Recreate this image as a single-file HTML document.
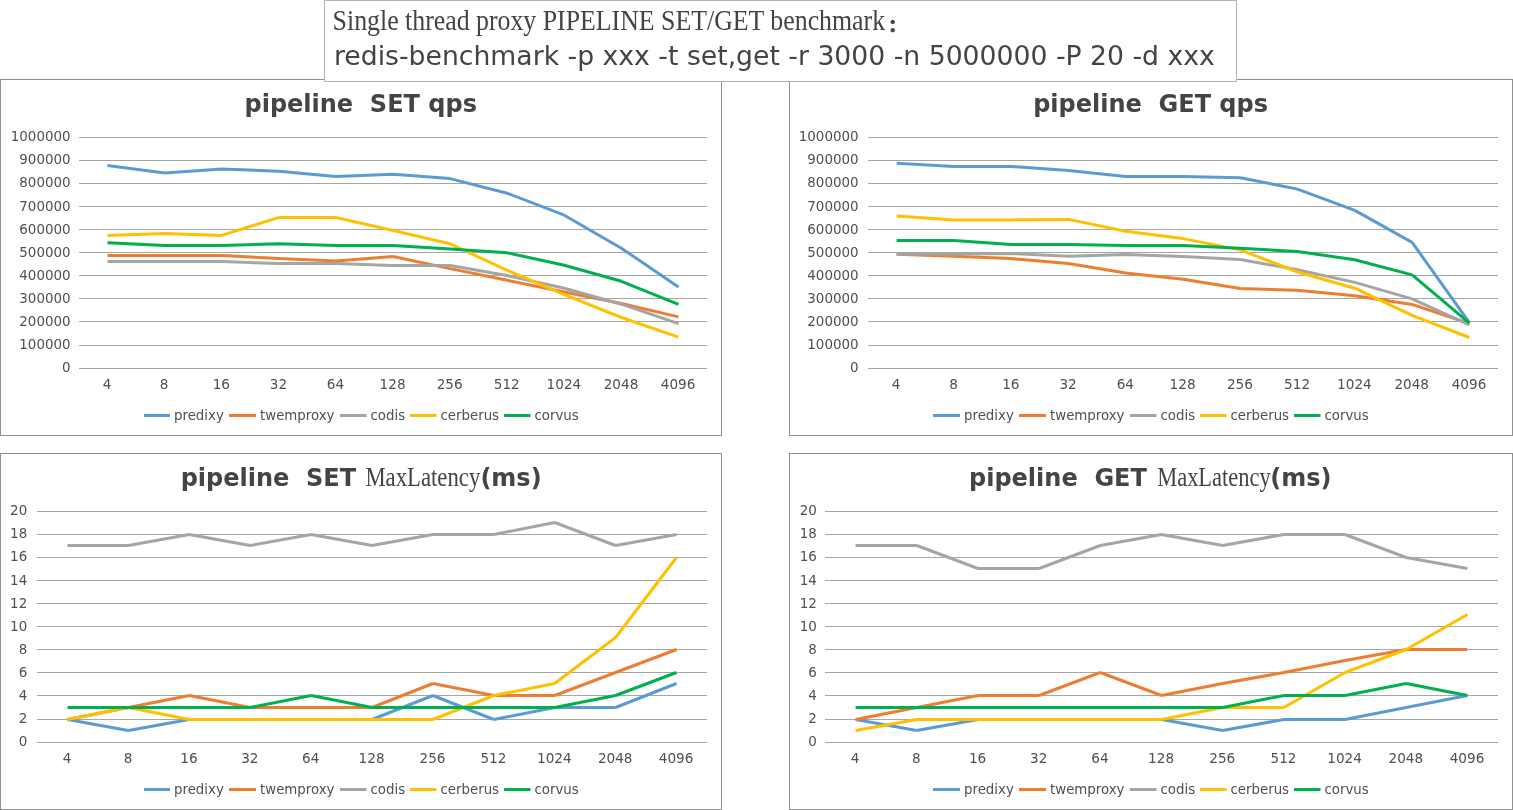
<!DOCTYPE html>
<html lang="en"><head><meta charset="utf-8"><title>Single thread proxy PIPELINE SET/GET benchmark</title>
<style>html,body{margin:0;padding:0;background:#fff;overflow:hidden}svg{display:block}</style></head><body>
<svg width="1513" height="810" viewBox="0 0 1513 810">
<rect width="1513" height="810" fill="#fff"/>
<rect x="0.5" y="79.5" width="721" height="356" fill="#fff" stroke="#909090" stroke-width="1"/>
<path d="M79 137.5H707M79 160.5H707M79 183.5H707M79 206.5H707M79 229.5H707M79 252.5H707M79 275.5H707M79 298.5H707M79 321.5H707M79 345.5H707M79 368.5H707" stroke="#a6a6a6" stroke-width="1" fill="none" shape-rendering="crispEdges"/>
<g font-family="'DejaVu Sans','Liberation Sans',sans-serif" font-size="13.45" fill="#505050" text-anchor="end">
<text x="70.6" y="141.3">1000000</text>
<text x="70.6" y="164.3">900000</text>
<text x="70.6" y="187.3">800000</text>
<text x="70.6" y="211.3">700000</text>
<text x="70.6" y="234.3">600000</text>
<text x="70.6" y="257.3">500000</text>
<text x="70.6" y="280.3">400000</text>
<text x="70.6" y="303.3">300000</text>
<text x="70.6" y="326.3">200000</text>
<text x="70.6" y="349.3">100000</text>
<text x="70.6" y="372.3">0</text>
</g>
<g font-family="'DejaVu Sans','Liberation Sans',sans-serif" font-size="13.6" fill="#505050" text-anchor="middle">
<text x="107.1" y="388.6">4</text>
<text x="164.2" y="388.6">8</text>
<text x="221.3" y="388.6">16</text>
<text x="278.4" y="388.6">32</text>
<text x="335.5" y="388.6">64</text>
<text x="392.6" y="388.6">128</text>
<text x="449.7" y="388.6">256</text>
<text x="506.8" y="388.6">512</text>
<text x="563.9" y="388.6">1024</text>
<text x="621.0" y="388.6">2048</text>
<text x="678.1" y="388.6">4096</text>
</g>
<path d="M107.5 165.4L164.6 173.1M164.6 173.1L221.7 169.1M221.7 169.1L278.8 171.2M278.8 171.2L335.9 176.5M335.9 176.5L393.0 174.3M393.0 174.3L450.1 178.6M450.1 178.6L507.2 193.2M507.2 193.2L564.3 215.2M564.3 215.2L621.4 248.2M621.4 248.2L678.5 287.1" stroke="#5b9bd5" stroke-width="3" fill="none"/>
<path d="M107.5 255.5L164.6 255.5M164.6 255.5L221.7 255.5M221.7 255.5L278.8 258.5M278.8 258.5L335.9 261.1M335.9 261.1L393.0 256.5M393.0 256.5L450.1 268.6M450.1 268.6L507.2 280.3M507.2 280.3L564.3 292.0M564.3 292.0L621.4 303.5M621.4 303.5L678.5 316.9" stroke="#ed7d31" stroke-width="3" fill="none"/>
<path d="M107.5 261.5L164.6 261.5M164.6 261.5L221.7 261.5M221.7 261.5L278.8 263.5M278.8 263.5L335.9 263.5M335.9 263.5L393.0 265.5M393.0 265.5L450.1 265.5M450.1 265.5L507.2 275.5M507.2 275.5L564.3 288.3M564.3 288.3L621.4 304.2M621.4 304.2L678.5 323.7" stroke="#a5a5a5" stroke-width="3" fill="none"/>
<path d="M107.5 235.4L164.6 233.5M164.6 233.5L221.7 235.4M221.7 235.4L278.8 217.5M278.8 217.5L335.9 217.5M335.9 217.5L393.0 230.5M393.0 230.5L450.1 243.8M450.1 243.8L507.2 270.3M507.2 270.3L564.3 294.6M564.3 294.6L621.4 317.5M621.4 317.5L678.5 337.1" stroke="#ffc000" stroke-width="3" fill="none"/>
<path d="M107.5 242.7L164.6 245.5M164.6 245.5L221.7 245.5M221.7 245.5L278.8 243.7M278.8 243.7L335.9 245.5M335.9 245.5L393.0 245.5M393.0 245.5L450.1 248.9M450.1 248.9L507.2 252.8M507.2 252.8L564.3 265.2M564.3 265.2L621.4 281.3M621.4 281.3L678.5 304.4" stroke="#00b050" stroke-width="3" fill="none"/>
<g font-family="'DejaVu Sans','Liberation Sans',sans-serif" font-size="13.33" fill="#505050">
<path d="M144.0 415.5H170.0" stroke="#5b9bd5" stroke-width="3"/>
<text x="174.0" y="419.8">predixy</text>
<path d="M229.0 415.5H256.0" stroke="#ed7d31" stroke-width="3"/>
<text x="260.0" y="419.8">twemproxy</text>
<path d="M340.0 415.5H366.5" stroke="#a5a5a5" stroke-width="3"/>
<text x="370.5" y="419.8">codis</text>
<path d="M410.0 415.5H436.5" stroke="#ffc000" stroke-width="3"/>
<text x="440.5" y="419.8">cerberus</text>
<path d="M504.0 415.5H530.5" stroke="#00b050" stroke-width="3"/>
<text x="534.5" y="419.8">corvus</text>
</g>
<text x="360.7" y="112" font-family="'DejaVu Sans','Liberation Sans',sans-serif" font-weight="bold" font-size="24" fill="#444444" text-anchor="middle" xml:space="preserve" style="white-space:pre">pipeline  SET qps</text>
<rect x="789.5" y="79.5" width="723" height="356" fill="#fff" stroke="#909090" stroke-width="1"/>
<path d="M868 137.5H1498M868 160.5H1498M868 183.5H1498M868 206.5H1498M868 229.5H1498M868 252.5H1498M868 275.5H1498M868 298.5H1498M868 321.5H1498M868 345.5H1498M868 368.5H1498" stroke="#a6a6a6" stroke-width="1" fill="none" shape-rendering="crispEdges"/>
<g font-family="'DejaVu Sans','Liberation Sans',sans-serif" font-size="13.45" fill="#505050" text-anchor="end">
<text x="858.6" y="141.3">1000000</text>
<text x="858.6" y="164.3">900000</text>
<text x="858.6" y="187.3">800000</text>
<text x="858.6" y="211.3">700000</text>
<text x="858.6" y="234.3">600000</text>
<text x="858.6" y="257.3">500000</text>
<text x="858.6" y="280.3">400000</text>
<text x="858.6" y="303.3">300000</text>
<text x="858.6" y="326.3">200000</text>
<text x="858.6" y="349.3">100000</text>
<text x="858.6" y="372.3">0</text>
</g>
<g font-family="'DejaVu Sans','Liberation Sans',sans-serif" font-size="13.6" fill="#505050" text-anchor="middle">
<text x="896.2" y="388.6">4</text>
<text x="953.5" y="388.6">8</text>
<text x="1010.8" y="388.6">16</text>
<text x="1068.1" y="388.6">32</text>
<text x="1125.3" y="388.6">64</text>
<text x="1182.6" y="388.6">128</text>
<text x="1239.9" y="388.6">256</text>
<text x="1297.1" y="388.6">512</text>
<text x="1354.4" y="388.6">1024</text>
<text x="1411.7" y="388.6">2048</text>
<text x="1469.0" y="388.6">4096</text>
</g>
<path d="M896.6 163.3L953.9 166.5M953.9 166.5L1011.2 166.5M1011.2 166.5L1068.5 170.4M1068.5 170.4L1125.7 176.5M1125.7 176.5L1183.0 176.5M1183.0 176.5L1240.3 177.7M1240.3 177.7L1297.5 189.1M1297.5 189.1L1354.8 210.4M1354.8 210.4L1412.1 242.4M1412.1 242.4L1469.4 322.6" stroke="#5b9bd5" stroke-width="3" fill="none"/>
<path d="M896.6 254.3L953.9 256.2M953.9 256.2L1011.2 258.6M1011.2 258.6L1068.5 263.5M1068.5 263.5L1125.7 273.0M1125.7 273.0L1183.0 279.3M1183.0 279.3L1240.3 288.6M1240.3 288.6L1297.5 290.2M1297.5 290.2L1354.8 295.7M1354.8 295.7L1412.1 304.4M1412.1 304.4L1469.4 323.5" stroke="#ed7d31" stroke-width="3" fill="none"/>
<path d="M896.6 254.3L953.9 254.0M953.9 254.0L1011.2 253.5M1011.2 253.5L1068.5 256.3M1068.5 256.3L1125.7 254.6M1125.7 254.6L1183.0 256.6M1183.0 256.6L1240.3 259.6M1240.3 259.6L1297.5 269.7M1297.5 269.7L1354.8 282.4M1354.8 282.4L1412.1 298.9M1412.1 298.9L1469.4 324.9" stroke="#a5a5a5" stroke-width="3" fill="none"/>
<path d="M896.6 215.9L953.9 220.1M953.9 220.1L1011.2 219.9M1011.2 219.9L1068.5 219.4M1068.5 219.4L1125.7 231.3M1125.7 231.3L1183.0 238.6M1183.0 238.6L1240.3 249.9M1240.3 249.9L1297.5 272.0M1297.5 272.0L1354.8 288.2M1354.8 288.2L1412.1 315.3M1412.1 315.3L1469.4 337.5" stroke="#ffc000" stroke-width="3" fill="none"/>
<path d="M896.6 240.5L953.9 240.5M953.9 240.5L1011.2 244.5M1011.2 244.5L1068.5 244.5M1068.5 244.5L1125.7 245.5M1125.7 245.5L1183.0 245.5M1183.0 245.5L1240.3 248.2M1240.3 248.2L1297.5 251.5M1297.5 251.5L1354.8 259.7M1354.8 259.7L1412.1 274.9M1412.1 274.9L1469.4 323.1" stroke="#00b050" stroke-width="3" fill="none"/>
<g font-family="'DejaVu Sans','Liberation Sans',sans-serif" font-size="13.33" fill="#505050">
<path d="M933.0 415.5H960.0" stroke="#5b9bd5" stroke-width="3"/>
<text x="964.0" y="419.8">predixy</text>
<path d="M1019.0 415.5H1046.0" stroke="#ed7d31" stroke-width="3"/>
<text x="1050.0" y="419.8">twemproxy</text>
<path d="M1130.0 415.5H1156.5" stroke="#a5a5a5" stroke-width="3"/>
<text x="1160.5" y="419.8">codis</text>
<path d="M1200.0 415.5H1226.5" stroke="#ffc000" stroke-width="3"/>
<text x="1230.5" y="419.8">cerberus</text>
<path d="M1294.0 415.5H1320.5" stroke="#00b050" stroke-width="3"/>
<text x="1324.5" y="419.8">corvus</text>
</g>
<text x="1150.6" y="112" font-family="'DejaVu Sans','Liberation Sans',sans-serif" font-weight="bold" font-size="24" fill="#444444" text-anchor="middle" xml:space="preserve" style="white-space:pre">pipeline  GET qps</text>
<rect x="0.5" y="453.5" width="721" height="356" fill="#fff" stroke="#909090" stroke-width="1"/>
<path d="M37 511.5H707M37 534.5H707M37 557.5H707M37 580.5H707M37 603.5H707M37 626.5H707M37 649.5H707M37 672.5H707M37 695.5H707M37 719.5H707M37 742.5H707" stroke="#a6a6a6" stroke-width="1" fill="none" shape-rendering="crispEdges"/>
<g font-family="'DejaVu Sans','Liberation Sans',sans-serif" font-size="13.45" fill="#505050" text-anchor="end">
<text x="27.2" y="515.3">20</text>
<text x="27.2" y="538.3">18</text>
<text x="27.2" y="561.3">16</text>
<text x="27.2" y="585.3">14</text>
<text x="27.2" y="608.3">12</text>
<text x="27.2" y="631.3">10</text>
<text x="27.2" y="654.3">8</text>
<text x="27.2" y="677.3">6</text>
<text x="27.2" y="700.3">4</text>
<text x="27.2" y="723.3">2</text>
<text x="27.2" y="746.3">0</text>
</g>
<g font-family="'DejaVu Sans','Liberation Sans',sans-serif" font-size="13.6" fill="#505050" text-anchor="middle">
<text x="67.1" y="762.6">4</text>
<text x="128.0" y="762.6">8</text>
<text x="188.9" y="762.6">16</text>
<text x="249.8" y="762.6">32</text>
<text x="310.7" y="762.6">64</text>
<text x="371.6" y="762.6">128</text>
<text x="432.5" y="762.6">256</text>
<text x="493.4" y="762.6">512</text>
<text x="554.3" y="762.6">1024</text>
<text x="615.2" y="762.6">2048</text>
<text x="676.1" y="762.6">4096</text>
</g>
<path d="M67.5 719.5L128.4 730.5M128.4 730.5L189.3 719.5M189.3 719.5L250.2 719.5M250.2 719.5L311.1 719.5M311.1 719.5L372.0 719.5M372.0 719.5L432.9 695.5M432.9 695.5L493.8 719.5M493.8 719.5L554.7 707.5M554.7 707.5L615.6 707.5M615.6 707.5L676.5 683.5" stroke="#5b9bd5" stroke-width="3" fill="none"/>
<path d="M67.5 719.5L128.4 707.5M128.4 707.5L189.3 695.5M189.3 695.5L250.2 707.5M250.2 707.5L311.1 707.5M311.1 707.5L372.0 707.5M372.0 707.5L432.9 683.5M432.9 683.5L493.8 695.5M493.8 695.5L554.7 695.5M554.7 695.5L615.6 672.5M615.6 672.5L676.5 649.5" stroke="#ed7d31" stroke-width="3" fill="none"/>
<path d="M67.5 545.5L128.4 545.5M128.4 545.5L189.3 534.5M189.3 534.5L250.2 545.5M250.2 545.5L311.1 534.5M311.1 534.5L372.0 545.5M372.0 545.5L432.9 534.5M432.9 534.5L493.8 534.5M493.8 534.5L554.7 522.5M554.7 522.5L615.6 545.5M615.6 545.5L676.5 534.5" stroke="#a5a5a5" stroke-width="3" fill="none"/>
<path d="M67.5 719.5L128.4 707.5M128.4 707.5L189.3 719.5M189.3 719.5L250.2 719.5M250.2 719.5L311.1 719.5M311.1 719.5L372.0 719.5M372.0 719.5L432.9 719.5M432.9 719.5L493.8 695.5M493.8 695.5L554.7 683.5M554.7 683.5L615.6 637.5M615.6 637.5L676.5 557.5" stroke="#ffc000" stroke-width="3" fill="none"/>
<path d="M67.5 707.5L128.4 707.5M128.4 707.5L189.3 707.5M189.3 707.5L250.2 707.5M250.2 707.5L311.1 695.5M311.1 695.5L372.0 707.5M372.0 707.5L432.9 707.5M432.9 707.5L493.8 707.5M493.8 707.5L554.7 707.5M554.7 707.5L615.6 695.5M615.6 695.5L676.5 672.5" stroke="#00b050" stroke-width="3" fill="none"/>
<g font-family="'DejaVu Sans','Liberation Sans',sans-serif" font-size="13.33" fill="#505050">
<path d="M144.0 789.5H170.0" stroke="#5b9bd5" stroke-width="3"/>
<text x="174.0" y="793.8">predixy</text>
<path d="M229.0 789.5H256.0" stroke="#ed7d31" stroke-width="3"/>
<text x="260.0" y="793.8">twemproxy</text>
<path d="M340.0 789.5H366.5" stroke="#a5a5a5" stroke-width="3"/>
<text x="370.5" y="793.8">codis</text>
<path d="M410.0 789.5H436.5" stroke="#ffc000" stroke-width="3"/>
<text x="440.5" y="793.8">cerberus</text>
<path d="M504.0 789.5H530.5" stroke="#00b050" stroke-width="3"/>
<text x="534.5" y="793.8">corvus</text>
</g>
<text x="180.7" y="486" font-family="'DejaVu Sans','Liberation Sans',sans-serif" font-weight="bold" font-size="24" fill="#444444" text-anchor="start" xml:space="preserve" style="white-space:pre">pipeline  SET</text>
<text x="365.4" y="486" font-family="'Liberation Serif','Noto Serif CJK SC',serif" font-size="26.6" fill="#444444" textLength="114.9" lengthAdjust="spacingAndGlyphs">MaxLatency</text>
<text x="480.4" y="486" font-family="'DejaVu Sans','Liberation Sans',sans-serif" font-weight="bold" font-size="24" fill="#444444" text-anchor="start" xml:space="preserve" style="white-space:pre">(ms)</text>
<rect x="789.5" y="453.5" width="723" height="356" fill="#fff" stroke="#909090" stroke-width="1"/>
<path d="M825 511.5H1498M825 534.5H1498M825 557.5H1498M825 580.5H1498M825 603.5H1498M825 626.5H1498M825 649.5H1498M825 672.5H1498M825 695.5H1498M825 719.5H1498M825 742.5H1498" stroke="#a6a6a6" stroke-width="1" fill="none" shape-rendering="crispEdges"/>
<g font-family="'DejaVu Sans','Liberation Sans',sans-serif" font-size="13.45" fill="#505050" text-anchor="end">
<text x="816.8" y="515.3">20</text>
<text x="816.8" y="538.3">18</text>
<text x="816.8" y="561.3">16</text>
<text x="816.8" y="585.3">14</text>
<text x="816.8" y="608.3">12</text>
<text x="816.8" y="631.3">10</text>
<text x="816.8" y="654.3">8</text>
<text x="816.8" y="677.3">6</text>
<text x="816.8" y="700.3">4</text>
<text x="816.8" y="723.3">2</text>
<text x="816.8" y="746.3">0</text>
</g>
<g font-family="'DejaVu Sans','Liberation Sans',sans-serif" font-size="13.6" fill="#505050" text-anchor="middle">
<text x="855.2" y="762.6">4</text>
<text x="916.4" y="762.6">8</text>
<text x="977.6" y="762.6">16</text>
<text x="1038.7" y="762.6">32</text>
<text x="1099.9" y="762.6">64</text>
<text x="1161.1" y="762.6">128</text>
<text x="1222.3" y="762.6">256</text>
<text x="1283.5" y="762.6">512</text>
<text x="1344.6" y="762.6">1024</text>
<text x="1405.8" y="762.6">2048</text>
<text x="1467.0" y="762.6">4096</text>
</g>
<path d="M855.6 719.5L916.8 730.5M916.8 730.5L978.0 719.5M978.0 719.5L1039.1 719.5M1039.1 719.5L1100.3 719.5M1100.3 719.5L1161.5 719.5M1161.5 719.5L1222.7 730.5M1222.7 730.5L1283.9 719.5M1283.9 719.5L1345.0 719.5M1345.0 719.5L1406.2 707.5M1406.2 707.5L1467.4 695.5" stroke="#5b9bd5" stroke-width="3" fill="none"/>
<path d="M855.6 719.5L916.8 707.5M916.8 707.5L978.0 695.5M978.0 695.5L1039.1 695.5M1039.1 695.5L1100.3 672.5M1100.3 672.5L1161.5 695.5M1161.5 695.5L1222.7 683.5M1222.7 683.5L1283.9 672.5M1283.9 672.5L1345.0 660.5M1345.0 660.5L1406.2 649.5M1406.2 649.5L1467.4 649.5" stroke="#ed7d31" stroke-width="3" fill="none"/>
<path d="M855.6 545.5L916.8 545.5M916.8 545.5L978.0 568.5M978.0 568.5L1039.1 568.5M1039.1 568.5L1100.3 545.5M1100.3 545.5L1161.5 534.5M1161.5 534.5L1222.7 545.5M1222.7 545.5L1283.9 534.5M1283.9 534.5L1345.0 534.5M1345.0 534.5L1406.2 557.5M1406.2 557.5L1467.4 568.5" stroke="#a5a5a5" stroke-width="3" fill="none"/>
<path d="M855.6 730.5L916.8 719.5M916.8 719.5L978.0 719.5M978.0 719.5L1039.1 719.5M1039.1 719.5L1100.3 719.5M1100.3 719.5L1161.5 719.5M1161.5 719.5L1222.7 707.5M1222.7 707.5L1283.9 707.5M1283.9 707.5L1345.0 672.5M1345.0 672.5L1406.2 649.5M1406.2 649.5L1467.4 614.5" stroke="#ffc000" stroke-width="3" fill="none"/>
<path d="M855.6 707.5L916.8 707.5M916.8 707.5L978.0 707.5M978.0 707.5L1039.1 707.5M1039.1 707.5L1100.3 707.5M1100.3 707.5L1161.5 707.5M1161.5 707.5L1222.7 707.5M1222.7 707.5L1283.9 695.5M1283.9 695.5L1345.0 695.5M1345.0 695.5L1406.2 683.5M1406.2 683.5L1467.4 695.5" stroke="#00b050" stroke-width="3" fill="none"/>
<g font-family="'DejaVu Sans','Liberation Sans',sans-serif" font-size="13.33" fill="#505050">
<path d="M933.0 789.5H960.0" stroke="#5b9bd5" stroke-width="3"/>
<text x="964.0" y="793.8">predixy</text>
<path d="M1019.0 789.5H1046.0" stroke="#ed7d31" stroke-width="3"/>
<text x="1050.0" y="793.8">twemproxy</text>
<path d="M1130.0 789.5H1156.5" stroke="#a5a5a5" stroke-width="3"/>
<text x="1160.5" y="793.8">codis</text>
<path d="M1200.0 789.5H1226.5" stroke="#ffc000" stroke-width="3"/>
<text x="1230.5" y="793.8">cerberus</text>
<path d="M1294.0 789.5H1320.5" stroke="#00b050" stroke-width="3"/>
<text x="1324.5" y="793.8">corvus</text>
</g>
<text x="969" y="486" font-family="'DejaVu Sans','Liberation Sans',sans-serif" font-weight="bold" font-size="24" fill="#444444" text-anchor="start" xml:space="preserve" style="white-space:pre">pipeline  GET</text>
<text x="1157.2" y="486" font-family="'Liberation Serif','Noto Serif CJK SC',serif" font-size="26.6" fill="#444444" textLength="113.5" lengthAdjust="spacingAndGlyphs">MaxLatency</text>
<text x="1270.2" y="486" font-family="'DejaVu Sans','Liberation Sans',sans-serif" font-weight="bold" font-size="24" fill="#444444" text-anchor="start" xml:space="preserve" style="white-space:pre">(ms)</text>
<rect x="324.5" y="0.5" width="912" height="81" fill="#fff" stroke="#b4b4b4" stroke-width="1"/>
<text x="332.6" y="30.1" font-family="'Liberation Serif','Noto Serif CJK SC',serif" font-size="29.4" fill="#444444" textLength="552.5" lengthAdjust="spacingAndGlyphs">Single thread proxy PIPELINE SET/GET benchmark</text>
<text x="886.8" y="32.3" font-family="'Noto Serif CJK SC','Liberation Serif',serif" font-weight="900" font-size="21" fill="#444444">：</text>
<text x="334" y="65" font-family="'DejaVu Sans','Liberation Sans',sans-serif" font-size="26.67" fill="#444444">redis-benchmark -p xxx -t set,get -r 3000 -n 5000000 -P 20 -d xxx</text>
</svg></body></html>
